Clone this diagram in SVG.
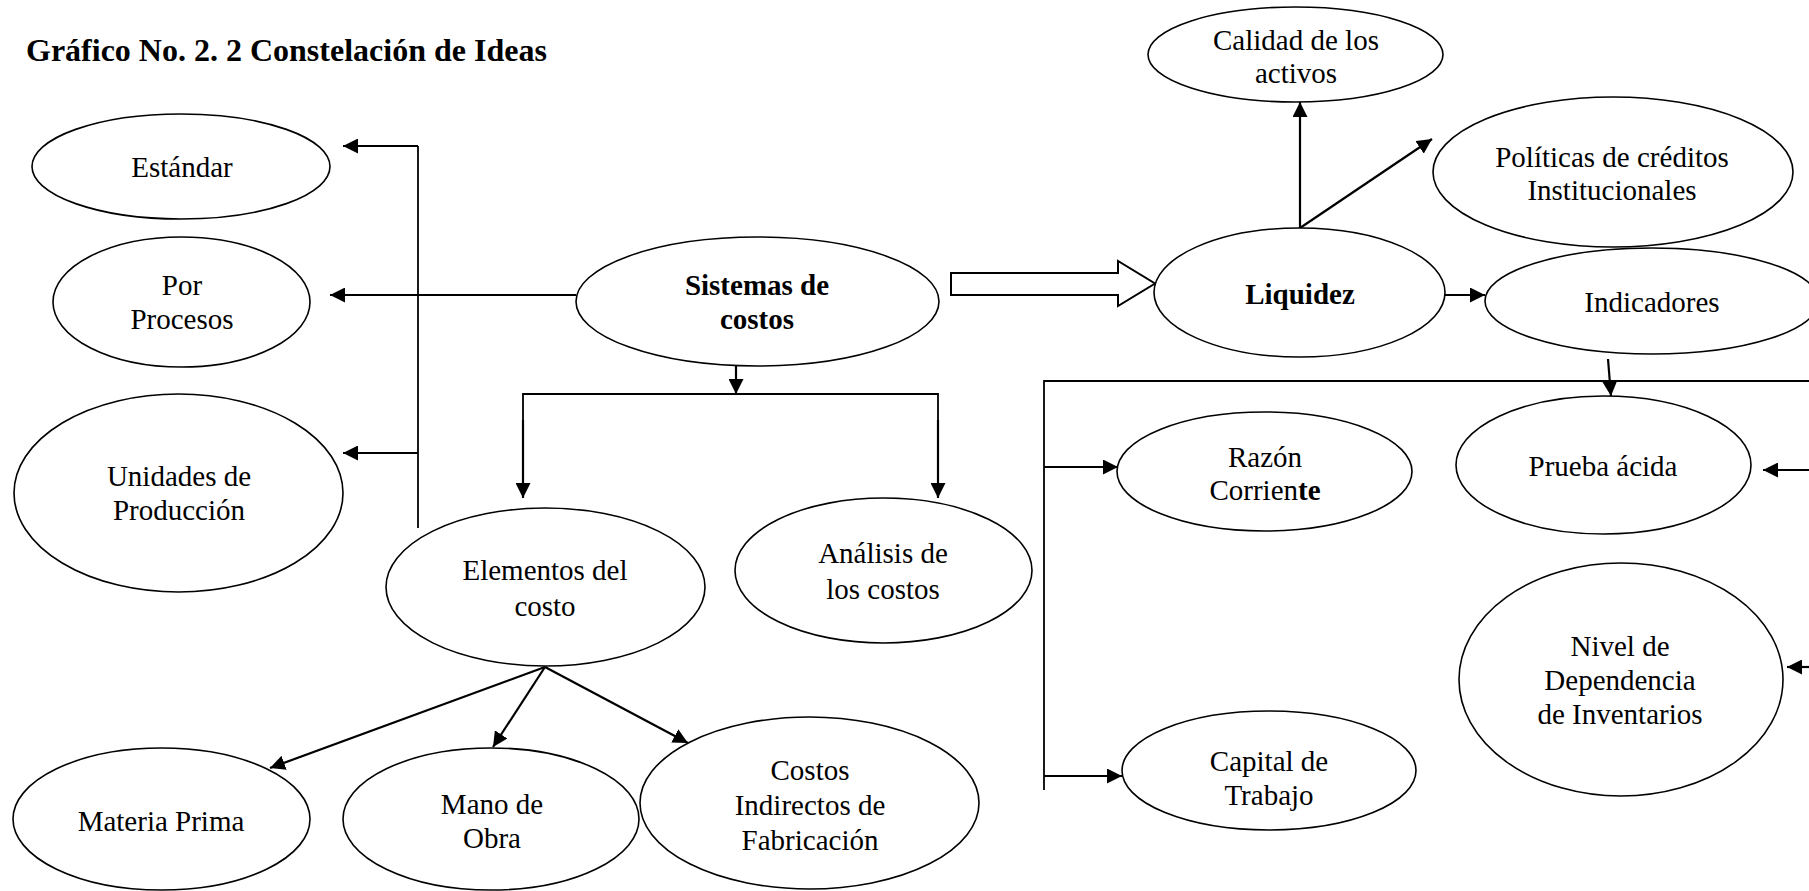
<svg xmlns="http://www.w3.org/2000/svg" width="1809" height="891" viewBox="0 0 1809 891">
<style>
.n{fill:#fff;stroke:#000;stroke-width:1.6}
.t{font-family:"Liberation Serif","Times New Roman",serif;font-size:29px;fill:#000;text-anchor:middle}
.b{font-weight:bold}
.c{fill:none;stroke:#000;stroke-width:2.2}
.l{fill:none;stroke:#000;stroke-width:1.8}
</style>
<defs>
<marker id="ah" markerUnits="userSpaceOnUse" markerWidth="15" markerHeight="15" viewBox="0 0 15 15" refX="15" refY="7.5" orient="auto">
<path d="M0,0 L15,7.5 L0,15 z" fill="#000"/>
</marker>
</defs>
<rect width="1809" height="891" fill="#fff"/>
<text x="26" y="61" font-family="'Liberation Serif','Times New Roman',serif" font-size="32" font-weight="bold">Gráfico No. 2. 2 Constelación de Ideas</text>

<g id="connectors">
<line class="l" x1="418" y1="146" x2="418" y2="528"/>
<line class="c" x1="418" y1="146" x2="343" y2="146" marker-end="url(#ah)"/>
<line class="c" x1="418" y1="453" x2="343" y2="453" marker-end="url(#ah)"/>
<line class="c" x1="576" y1="295" x2="330" y2="295" marker-end="url(#ah)"/>
<line class="c" x1="736" y1="366" x2="736" y2="394" marker-end="url(#ah)"/>
<polyline class="l" points="523,498 523,394 938,394 938,498"/>
<line class="c" x1="523" y1="420" x2="523" y2="498" marker-end="url(#ah)"/>
<line class="c" x1="938" y1="420" x2="938" y2="498" marker-end="url(#ah)"/>
<line class="c" x1="545" y1="667" x2="270" y2="768" marker-end="url(#ah)"/>
<line class="c" x1="545" y1="667" x2="493" y2="747" marker-end="url(#ah)"/>
<line class="c" x1="545" y1="667" x2="688" y2="743" marker-end="url(#ah)"/>
<polygon points="951,273 1118,273 1118,261 1155,283.5 1118,306 1118,295 951,295" fill="#fff" stroke="#000" stroke-width="2"/>
<line class="c" x1="1300" y1="228" x2="1300" y2="102" marker-end="url(#ah)"/>
<line class="c" x1="1300" y1="228" x2="1432" y2="139" marker-end="url(#ah)"/>
<line class="c" x1="1445" y1="295" x2="1485" y2="295" marker-end="url(#ah)"/>
<polyline class="l" points="1044,790 1044,381 1809,381"/>
<line class="c" x1="1608" y1="359" x2="1611" y2="396" marker-end="url(#ah)"/>
<line class="c" x1="1044" y1="467" x2="1118" y2="467" marker-end="url(#ah)"/>
<line class="c" x1="1044" y1="776" x2="1122" y2="776" marker-end="url(#ah)"/>
<line class="c" x1="1809" y1="470" x2="1763" y2="470" marker-end="url(#ah)"/>
<line class="c" x1="1809" y1="667" x2="1787" y2="667" marker-end="url(#ah)"/>
</g>

<g id="estandar"><ellipse class="n" cx="181" cy="166.5" rx="149" ry="52.5"/><text class="t" x="182" y="177">Estándar</text></g>
<g id="por-procesos"><ellipse class="n" cx="181.5" cy="302" rx="128.5" ry="65"/><text class="t" x="182" y="295">Por</text><text class="t" x="182" y="329">Procesos</text></g>
<g id="unidades"><ellipse class="n" cx="178.5" cy="493" rx="164.5" ry="99"/><text class="t" x="179" y="486">Unidades de</text><text class="t" x="179" y="520">Producción</text></g>
<g id="sistemas"><ellipse class="n" cx="757.5" cy="301.5" rx="181.5" ry="64.5"/><text class="t b" x="757" y="295">Sistemas de</text><text class="t b" x="757" y="329">costos</text></g>
<g id="elementos"><ellipse class="n" cx="545.5" cy="587" rx="159.5" ry="79"/><text class="t" x="545" y="580">Elementos del</text><text class="t" x="545" y="616">costo</text></g>
<g id="analisis"><ellipse class="n" cx="883.5" cy="570.5" rx="148.5" ry="72.5"/><text class="t" x="883" y="563">Análisis de</text><text class="t" x="883" y="599">los costos</text></g>
<g id="materia"><ellipse class="n" cx="161.5" cy="819" rx="148.5" ry="71"/><text class="t" x="161" y="831">Materia Prima</text></g>
<g id="mano"><ellipse class="n" cx="491" cy="819" rx="148" ry="71"/><text class="t" x="492" y="814">Mano de</text><text class="t" x="492" y="848">Obra</text></g>
<g id="costos-indirectos"><ellipse class="n" cx="809.5" cy="803" rx="169.5" ry="86"/><text class="t" x="810" y="780">Costos</text><text class="t" x="810" y="815">Indirectos de</text><text class="t" x="810" y="850">Fabricación</text></g>
<g id="liquidez"><ellipse class="n" cx="1299.5" cy="292.5" rx="145.5" ry="64.5"/><text class="t b" x="1300" y="304">Liquidez</text></g>
<g id="calidad"><ellipse class="n" cx="1295.5" cy="54.5" rx="147.5" ry="47.5"/><text class="t" x="1296" y="50">Calidad de los</text><text class="t" x="1296" y="83">activos</text></g>
<g id="politicas"><ellipse class="n" cx="1613" cy="172" rx="180" ry="75"/><text class="t" x="1612" y="167">Políticas de créditos</text><text class="t" x="1612" y="200">Institucionales</text></g>
<g id="indicadores"><ellipse class="n" cx="1652" cy="301" rx="167" ry="53"/><text class="t" x="1652" y="312">Indicadores</text></g>
<g id="razon"><ellipse class="n" cx="1264.5" cy="471.5" rx="147.5" ry="59.5"/><text class="t" x="1265" y="467">Razón</text><text class="t" x="1265" y="500">Corrien<tspan class="b">te</tspan></text></g>
<g id="prueba"><ellipse class="n" cx="1603.5" cy="465" rx="147.5" ry="69"/><text class="t" x="1603" y="476">Prueba ácida</text></g>
<g id="capital"><ellipse class="n" cx="1269" cy="770.5" rx="147" ry="59.5"/><text class="t" x="1269" y="771">Capital de</text><text class="t" x="1269" y="805">Trabajo</text></g>
<g id="nivel"><ellipse class="n" cx="1621" cy="679.5" rx="162" ry="116.5"/><text class="t" x="1620" y="656">Nivel de</text><text class="t" x="1620" y="690">Dependencia</text><text class="t" x="1620" y="724">de Inventarios</text></g>
</svg>
